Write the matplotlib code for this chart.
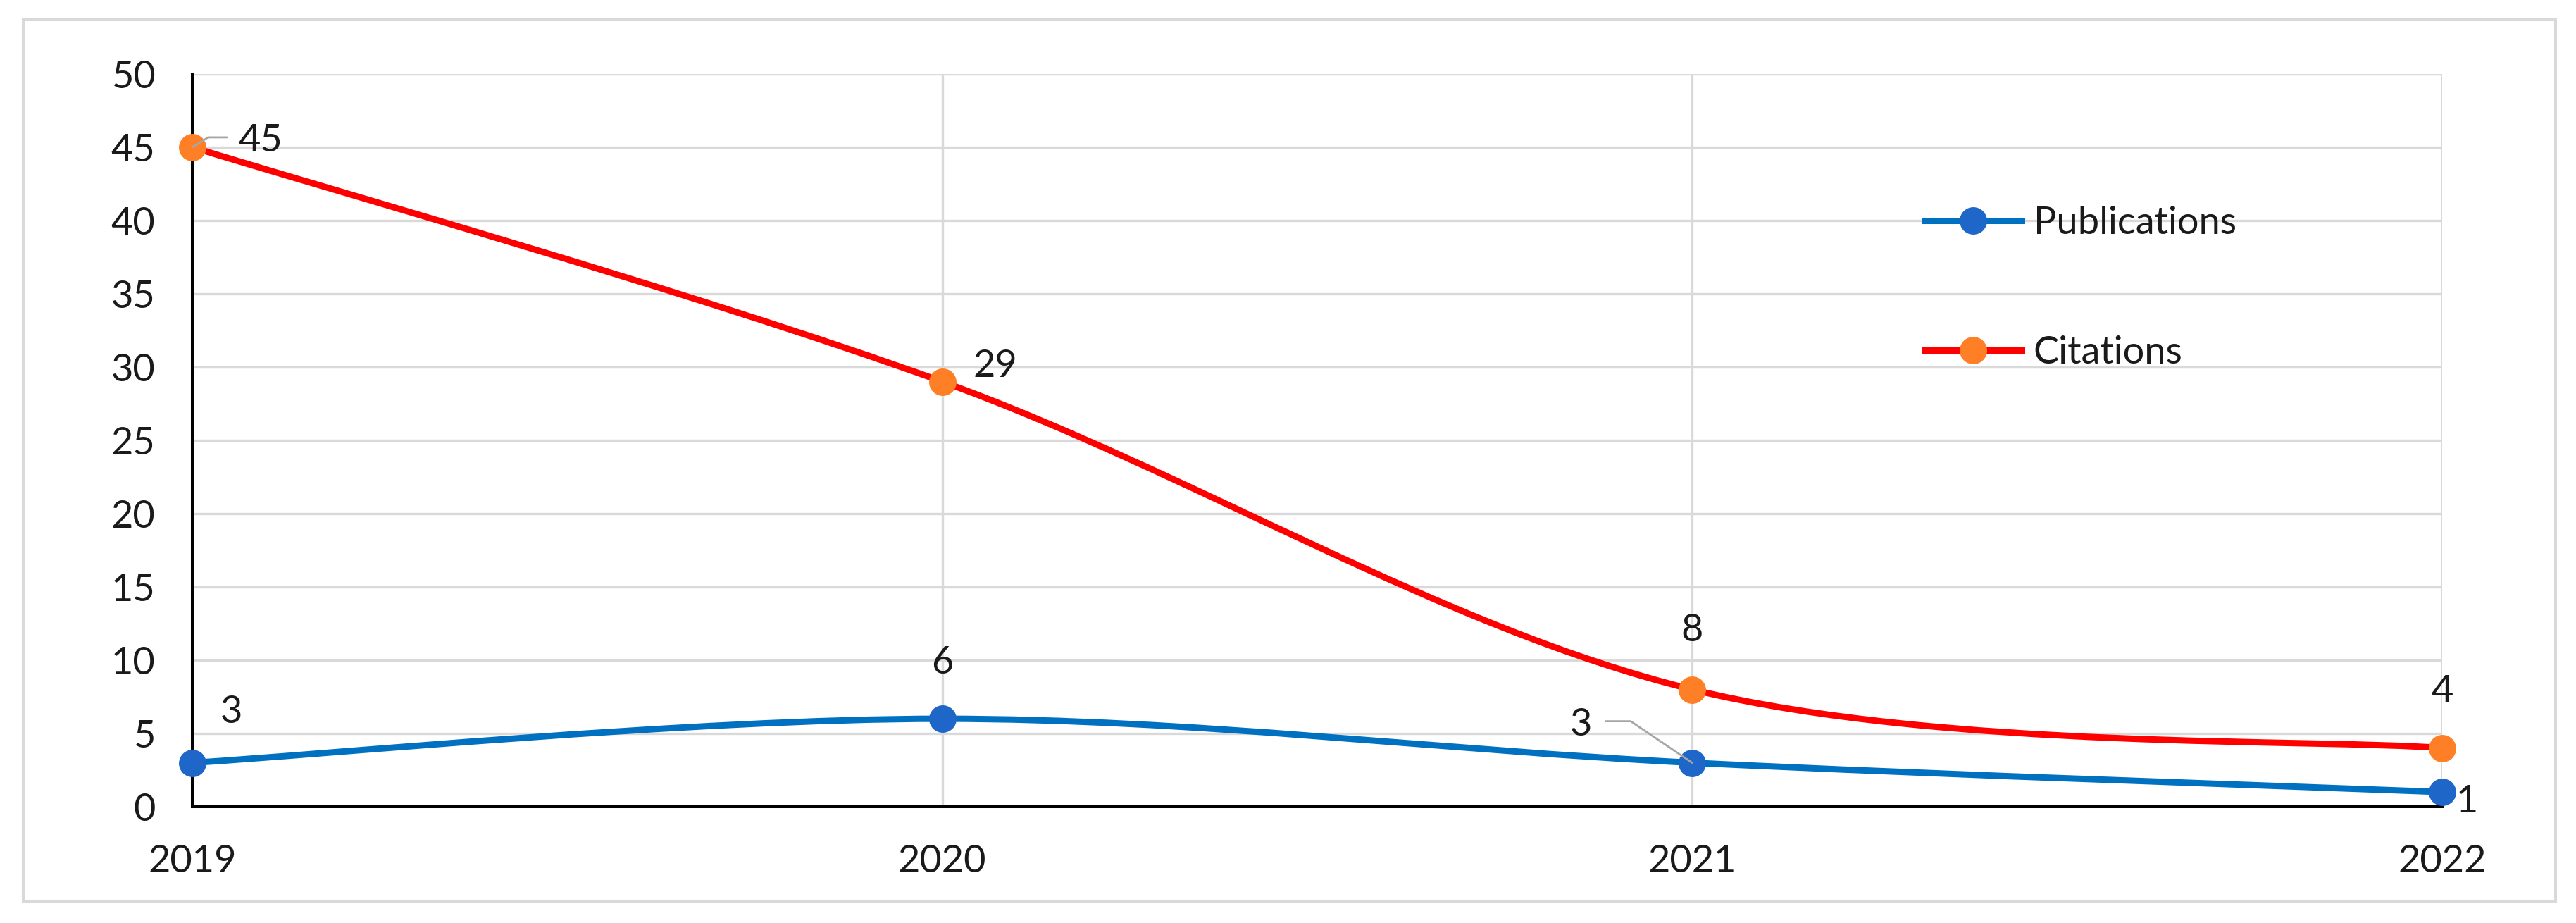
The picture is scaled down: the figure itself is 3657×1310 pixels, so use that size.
import matplotlib
matplotlib.use("Agg")
import matplotlib.pyplot as plt
from matplotlib.path import Path
from matplotlib.patches import PathPatch, Rectangle
from matplotlib.lines import Line2D

years = ["2019", "2020", "2021", "2022"]
publications = [3, 6, 3, 1]
citations = [45, 29, 8, 4]

plt.rcParams["font.family"] = ["Lato", "DejaVu Sans"]

PX = 0.72  # points per pixel at dpi 100
FS = 39
LW = 6.5
MS = 27

blue_line = "#0070C0"
blue_mark = "#1F66C9"
red_line = "#FF0000"
orange_mark = "#FF7F27"
grid_col = "#D9D9D9"
leader_col = "#A6A6A6"
text_col = "#1A1A1A"


def smooth_path(ys):
    # excel style smoothed line: bezier segments through the points
    pts = list(zip(range(len(ys)), ys))
    n = len(pts)
    verts = [pts[0]]
    codes = [Path.MOVETO]
    for i in range(n - 1):
        p0 = pts[max(i - 1, 0)]
        p1 = pts[i]
        p2 = pts[i + 1]
        p3 = pts[min(i + 2, n - 1)]
        c1 = (p1[0] + (p2[0] - p0[0]) / 6, p1[1] + (p2[1] - p0[1]) / 6)
        c2 = (p2[0] - (p3[0] - p1[0]) / 6, p2[1] - (p3[1] - p1[1]) / 6)
        verts += [c1, c2, p2]
        codes += [Path.CURVE4] * 3
    return Path(verts, codes)


fig = plt.figure(figsize=(36.57, 13.10), dpi=100)
ax = fig.add_axes([0.0747, 0.126, 0.8733, 0.794])

x = range(len(years))
ax.add_patch(PathPatch(smooth_path(citations), fill=False, ec=red_line,
                       lw=LW, capstyle="round", zorder=3))
ax.add_patch(PathPatch(smooth_path(publications), fill=False, ec=blue_line,
                       lw=LW, capstyle="round", zorder=3))
ax.plot(x, citations, ls="none", marker="o", ms=MS, mfc=orange_mark,
        mec=orange_mark, zorder=5, clip_on=False)
ax.plot(x, publications, ls="none", marker="o", ms=MS, mfc=blue_mark,
        mec=blue_mark, zorder=5, clip_on=False)

ax.set_xlim(0, 3)
ax.set_ylim(0, 50)
ax.set_xticks(list(x))
ax.set_xticklabels(years)
ax.set_yticks(range(0, 51, 5))
ax.tick_params(axis="both", length=0, labelsize=FS, colors=text_col)
ax.tick_params(axis="y", pad=38)
ax.tick_params(axis="x", pad=38)
ax.grid(True, color=grid_col, lw=2.4)
ax.set_axisbelow(True)
for s in ["top", "right"]:
    ax.spines[s].set_visible(False)
for s in ["left", "bottom"]:
    ax.spines[s].set_color("black")
    ax.spines[s].set_linewidth(2.9)
    ax.spines[s].set_zorder(4)

# data labels: offsets in pixels (dx, dy up)
pub_off = [(55, 72), (0, 80), (-158, 54), (35, -13)]
cit_off = [(97, 9), (75, 22), (0, 84), (0, 80)]

for i, v in enumerate(publications):
    dx, dy = pub_off[i]
    kw = {}
    if i == 2:
        kw["arrowprops"] = dict(arrowstyle="-", color=leader_col, lw=2,
                                relpos=(1, 0.6), shrinkA=12, shrinkB=0,
                                connectionstyle="angle,angleA=0,angleB=-34")
    ax.annotate(str(v), (i, v), xytext=(dx * PX, dy * PX),
                textcoords="offset points", ha="center", va="center",
                fontsize=FS, color=text_col, zorder=6, **kw)

for i, v in enumerate(citations):
    dx, dy = cit_off[i]
    kw = {}
    if i == 0:
        kw["arrowprops"] = dict(arrowstyle="-", color=leader_col, lw=2,
                                relpos=(0, 0.6), shrinkA=10, shrinkB=0,
                                connectionstyle="angle,angleA=0,angleB=32")
    ax.annotate(str(v), (i, v), xytext=(dx * PX, dy * PX),
                textcoords="offset points", ha="center", va="center",
                fontsize=FS, color=text_col, zorder=6, **kw)

handles = [
    Line2D([], [], color=blue_line, lw=LW, marker="o", ms=MS,
           mfc=blue_mark, mec=blue_mark),
    Line2D([], [], color=red_line, lw=LW, marker="o", ms=MS,
           mfc=orange_mark, mec=orange_mark),
]
ax.legend(handles, ["Publications", "Citations"], loc="center left",
          bbox_to_anchor=(0.77, 0.708), frameon=False, fontsize=FS,
          labelspacing=2.5, handlelength=2.55, handletextpad=0.3,
          borderpad=0, borderaxespad=0, labelcolor=text_col)

fig.patches.append(Rectangle((0.009, 0.023), 0.983, 0.956, fill=False,
                             ec=grid_col, lw=2.9, transform=fig.transFigure))

fig.savefig("out.png", dpi=100, facecolor="white")
